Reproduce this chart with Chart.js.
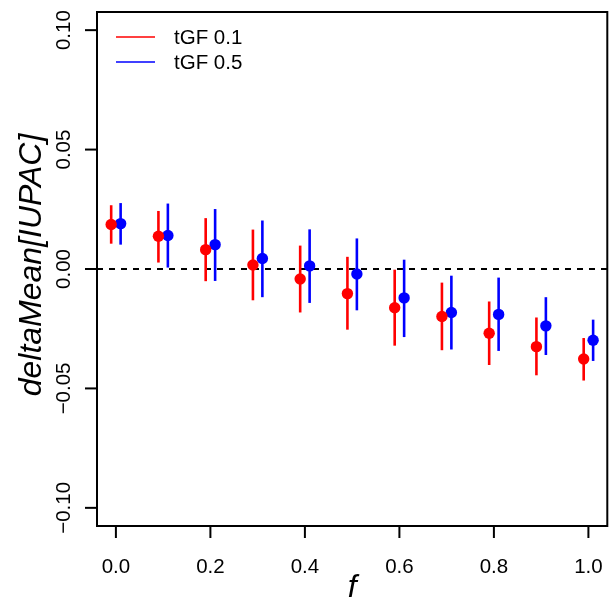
<!DOCTYPE html>
<html>
<head>
<meta charset="utf-8">
<script src="https://cdn.jsdelivr.net/npm/chart.js@4"></script>
<style>
  html, body { margin: 0; padding: 0; background: #ffffff; }
  #wrap { width: 613px; height: 597px; }
</style>
</head>
<body>
<div id="wrap"><canvas id="c" width="613" height="597"></canvas></div>
<script>
// ---- data ----
const fValues = [0.0, 0.1, 0.2, 0.3, 0.4, 0.5, 0.6, 0.7, 0.8, 0.9, 1.0];

const red_mean = [0.0186, 0.0137, 0.0081, 0.0017, -0.0042, -0.0103, -0.0162, -0.0199, -0.0269, -0.0325, -0.0377];
const red_hi   = [0.0267, 0.0243, 0.0213, 0.0165, 0.0098, 0.0051, -0.0003, -0.0057, -0.0136, -0.0203, -0.0289];
const red_lo   = [0.0106, 0.0027, -0.0051, -0.0131, -0.0182, -0.0254, -0.0321, -0.0340, -0.0402, -0.0445, -0.0467];

const blue_mean = [0.0190, 0.0140, 0.0102, 0.0044, 0.0013, -0.0021, -0.0121, -0.0182, -0.0190, -0.0238, -0.0298];
const blue_hi   = [0.0276, 0.0274, 0.0251, 0.0203, 0.0166, 0.0128, 0.0039, -0.0028, -0.0036, -0.0118, -0.0212];
const blue_lo   = [0.0102, 0.0006, -0.0050, -0.0118, -0.0142, -0.0173, -0.0285, -0.0337, -0.0343, -0.0360, -0.0385];

const seriesLabels = ["tGF 0.1", "tGF 0.5"];
const xTicks = [0.0, 0.2, 0.4, 0.6, 0.8, 1.0];
const xTickLabels = ["0.0", "0.2", "0.4", "0.6", "0.8", "1.0"];
const yTicks = [-0.10, -0.05, 0.00, 0.05, 0.10];
const yTickLabels = ["\u22120.10", "\u22120.05", "0.00", "0.05", "0.10"];
const xTitle = "f";
const yTitle = "deltaMean[IUPAC]";

// ---- styling / layout ----
const RED = "#FF0000", BLUE = "#0000FF";
const dodge = 0.01;
const FONT = "'Liberation Sans', Arial, Helvetica, sans-serif";

function pts(means, off) {
  return fValues.map((f, i) => ({ x: f + off, y: means[i] }));
}

const errBars = [
  { lo: red_lo, hi: red_hi, off: -dodge, color: RED },
  { lo: blue_lo, hi: blue_hi, off: dodge, color: BLUE }
];

const rPlot = {
  id: 'rPlot',
  beforeDatasetsDraw(chart) {
    const { ctx, chartArea: a, scales: { x, y } } = chart;
    ctx.save();
    ctx.strokeStyle = '#000';
    ctx.lineWidth = 2;
    ctx.setLineDash([6, 6]);
    const y0 = Math.round(y.getPixelForValue(0));
    ctx.beginPath();
    ctx.moveTo(a.left, y0);
    ctx.lineTo(a.right, y0);
    ctx.stroke();
    ctx.restore();
  },
  beforeDatasetDraw(chart, args) {
    const { ctx, scales: { x, y } } = chart;
    const eb = errBars[args.index];
    if (!eb) return;
    ctx.save();
    ctx.strokeStyle = eb.color;
    ctx.lineWidth = 2.6;
    ctx.lineCap = 'butt';
    fValues.forEach((f, i) => {
      const px = x.getPixelForValue(f + eb.off);
      ctx.beginPath();
      ctx.moveTo(px, y.getPixelForValue(eb.lo[i]));
      ctx.lineTo(px, y.getPixelForValue(eb.hi[i]));
      ctx.stroke();
    });
    ctx.restore();
  },
  afterDraw(chart) {
    const { ctx, chartArea: a, scales: { x, y } } = chart;
    ctx.save();
    ctx.strokeStyle = '#000';
    ctx.fillStyle = '#000';
    ctx.lineWidth = 2;
    ctx.strokeRect(a.left, a.top, a.right - a.left, a.bottom - a.top);
    const tickLen = 12;
    ctx.font = '20.5px ' + FONT;
    ctx.textAlign = 'center';
    ctx.textBaseline = 'alphabetic';
    xTicks.forEach((t, i) => {
      const px = x.getPixelForValue(t);
      ctx.beginPath();
      ctx.moveTo(px, a.bottom);
      ctx.lineTo(px, a.bottom + tickLen);
      ctx.stroke();
      ctx.fillText(xTickLabels[i], px, 572.5);
    });
    yTicks.forEach((t, i) => {
      const py = y.getPixelForValue(t);
      ctx.beginPath();
      ctx.moveTo(a.left, py);
      ctx.lineTo(a.left - tickLen, py);
      ctx.stroke();
      ctx.save();
      ctx.translate(70, py);
      ctx.rotate(-Math.PI / 2);
      ctx.fillText(yTickLabels[i], 0, 0);
      ctx.restore();
    });
    ctx.font = 'italic 32px ' + FONT;
    ctx.fillText(xTitle, (a.left + a.right) / 2, 597);
    ctx.save();
    ctx.translate(41, 265);
    ctx.rotate(-Math.PI / 2);
    ctx.fillText(yTitle, 0, 0);
    ctx.restore();
    const leg = [{ c: RED, t: seriesLabels[0], y: 37 }, { c: BLUE, t: seriesLabels[1], y: 62 }];
    ctx.font = '20.5px ' + FONT;
    ctx.textAlign = 'left';
    ctx.textBaseline = 'middle';
    leg.forEach(l => {
      ctx.strokeStyle = l.c;
      ctx.lineWidth = 1.5;
      ctx.beginPath();
      ctx.moveTo(116, l.y);
      ctx.lineTo(155, l.y);
      ctx.stroke();
      ctx.fillStyle = '#000';
      ctx.fillText(l.t, 174, l.y + 1);
    });
    ctx.restore();
  }
};

new Chart(document.getElementById('c'), {
  type: 'scatter',
  data: {
    datasets: [
      { label: seriesLabels[0], data: pts(red_mean, -dodge), backgroundColor: RED, borderColor: RED,
        pointRadius: 5.7, pointBorderWidth: 0, pointHoverRadius: 5.7 },
      { label: seriesLabels[1], data: pts(blue_mean, dodge), backgroundColor: BLUE, borderColor: BLUE,
        pointRadius: 5.7, pointBorderWidth: 0, pointHoverRadius: 5.7 }
    ]
  },
  options: {
    responsive: false,
    animation: false,
    devicePixelRatio: 1,
    layout: { padding: { left: 97, top: 12, right: 1, bottom: 71 } },
    plugins: { legend: { display: false }, tooltip: { enabled: false } },
    scales: {
      x: { type: 'linear', min: -0.04, max: 1.04, display: false },
      y: { type: 'linear', min: -0.1076, max: 0.1076, display: false }
    }
  },
  plugins: [rPlot]
});
</script>
</body>
</html>
